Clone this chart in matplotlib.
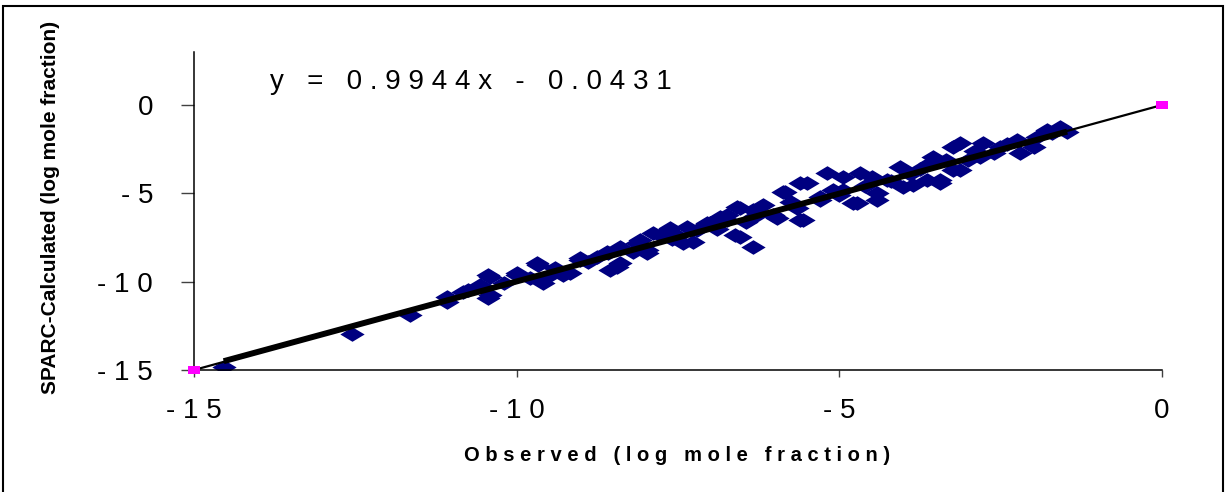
import numpy as np
import matplotlib
matplotlib.use("Agg")
import matplotlib.pyplot as plt
from matplotlib.path import Path
from matplotlib.patches import Rectangle
from matplotlib.ticker import FuncFormatter

# observed vs SPARC-calculated (log mole fraction)
observed = [
    -14.54, -12.55, -11.65, -11.08, -11.08, -10.83, -10.75, -10.57, -10.44, -10.44,
    -10.41, -10.41, -9.99, -9.99, -9.68, -9.67, -9.59, -9.53, -9.28, -9.17,
    -9.02, -9.02, -8.60, -8.58, -8.55, -8.45, -8.40, -8.40, -8.14, -8.09,
    -7.98, -7.98, -7.89, -7.78, -7.62, -7.58, -7.42, -7.36, -7.27, -7.05,
    -7.00, -6.85, -6.74, -6.74, -6.62, -6.59, -6.54, -6.54, -6.34, -6.34,
    -6.18, -6.03, -5.97, -5.87, -5.84, -5.66, -5.61, -5.61, -5.56, -5.50,
    -5.30, -5.19, -4.94, -4.94, -4.79, -4.73, -4.68, -4.42, -4.42, -4.26,
    -4.06, -4.01, -3.86, -3.64, -3.59, -3.55, -3.44, -3.44, -3.24, -3.24,
    -3.13, -3.13, -2.82, -2.77, -2.51, -2.25, -2.20, -1.99, -1.94, -1.78,
    -1.58, -1.47, -9.80, -8.90, -7.60, -6.30, -5.30, -4.60, -3.90, -3.00,
    -2.60, -8.20, -6.90, -5.00, -4.20, -10.20, -9.40, -8.75, -7.20, -6.45,
    -5.75, -5.10, -4.50, -3.75, -3.35, -2.90, -2.40, -1.70,
]
calculated = [
    -14.83, -12.96, -11.88, -11.15, -10.87, -10.58, -10.47, -10.19, -9.62, -10.92,
    -10.75, -9.73, -9.62, -9.51, -8.94, -9.06, -10.07, -9.73, -9.62, -9.51,
    -8.77, -8.66, -8.32, -8.38, -9.34, -9.17, -8.94, -8.04, -7.81, -7.64,
    -8.38, -8.21, -7.24, -7.36, -6.96, -7.24, -7.81, -6.90, -7.75, -6.68,
    -6.68, -6.34, -6.23, -6.51, -7.36, -5.77, -5.83, -7.47, -5.94, -8.04,
    -5.66, -6.23, -6.40, -4.92, -4.92, -5.83, -6.51, -4.41, -6.51, -4.41,
    -5.38, -3.85, -4.07, -4.81, -5.55, -5.55, -3.85, -4.98, -5.38, -4.24,
    -3.51, -4.64, -4.53, -4.24, -3.28, -2.94, -4.24, -4.41, -2.38, -3.68,
    -2.15, -3.68, -2.94, -2.15, -2.38, -1.98, -2.72, -2.38, -1.81, -1.41,
    -1.25, -1.53, -9.80, -8.90, -7.60, -6.30, -5.20, -4.60, -3.90, -3.10,
    -2.70, -8.30, -7.00, -5.10, -4.30, -10.10, -9.20, -8.60, -7.10, -6.60,
    -5.50, -4.80, -4.10, -3.60, -3.10, -2.60, -2.20, -1.60,
]

# 1:1 reference series and trendline coefficients
ref_line = [-15, 0]
slope, intercept = 0.9944, -0.0431

x_ticks = [-15, -10, -5, 0]
y_ticks = [-15, -10, -5, 0]

plt.rcParams['font.family'] = ['Liberation Sans', 'DejaVu Sans']


def spaced(s):
    # Excel-style letter spacing
    return " ".join(s)


fig = plt.figure(figsize=(12.25, 4.92), dpi=100)
ax = fig.add_axes([194 / 1225, 122 / 492, 968 / 1225, 318 / 492])

# stretched diamond marker and flat square marker
diamond = Path([(-1, 0), (0, 0.6), (1, 0), (0, -0.6), (-1, 0)],
               [Path.MOVETO, Path.LINETO, Path.LINETO, Path.LINETO, Path.CLOSEPOLY])
flat_sq = Path([(-1, -0.65), (1, -0.65), (1, 0.65), (-1, 0.65), (-1, -0.65)],
               [Path.MOVETO, Path.LINETO, Path.LINETO, Path.LINETO, Path.CLOSEPOLY])

ax.scatter(observed, calculated, marker=diamond, s=17.5 ** 2, color='#000080',
           linewidths=0, zorder=2)
ax.plot(ref_line, ref_line, color='black', linewidth=1.6, marker=flat_sq,
        markersize=8, markerfacecolor='#FF00FF', markeredgewidth=0,
        clip_on=False, zorder=3)

x_fit = np.array([min(observed), max(observed)])
ax.plot(x_fit, slope * x_fit + intercept, color='black', linewidth=4.3,
        solid_capstyle='butt', zorder=4)

ax.text(-13.82, 1.3, "y   =   0 . 9 9 4 4 x   -   0 . 0 4 3 1", fontsize=20,
        ha='left', va='center')

ax.set_xlim(-15, 0)
ax.set_ylim(-15, 3)
ax.set_xticks(x_ticks)
ax.set_yticks(y_ticks)
fmt = FuncFormatter(lambda v, pos: spaced(str(int(round(v)))))
ax.xaxis.set_major_formatter(fmt)
ax.yaxis.set_major_formatter(fmt)

for side in ['top', 'right']:
    ax.spines[side].set_visible(False)
for side in ['left', 'bottom']:
    ax.spines[side].set_linewidth(1.1)

ax.tick_params(axis='x', direction='out', length=5, width=1, color='#404040',
               labelsize=20, pad=15)
ax.tick_params(axis='y', direction='out', length=9.5, width=1, color='#404040',
               labelsize=20, pad=20)

ax.set_xlabel(spaced("Observed (log mole fraction)"), fontsize=14.5, fontweight='bold')
ax.xaxis.set_label_coords(0.499, -0.24)
ax.xaxis.label.set_va('top')
ax.set_ylabel("SPARC-Calculated (log mole fraction)", fontsize=15, fontweight='bold')
ax.yaxis.set_label_coords(-0.138, 0.51)

# outer chart border
fig.patches.append(Rectangle((0.0025, -0.01), 0.996, 0.998, transform=fig.transFigure,
                             fill=False, edgecolor='black', linewidth=1.5))

fig.savefig("out.png", dpi=100)
